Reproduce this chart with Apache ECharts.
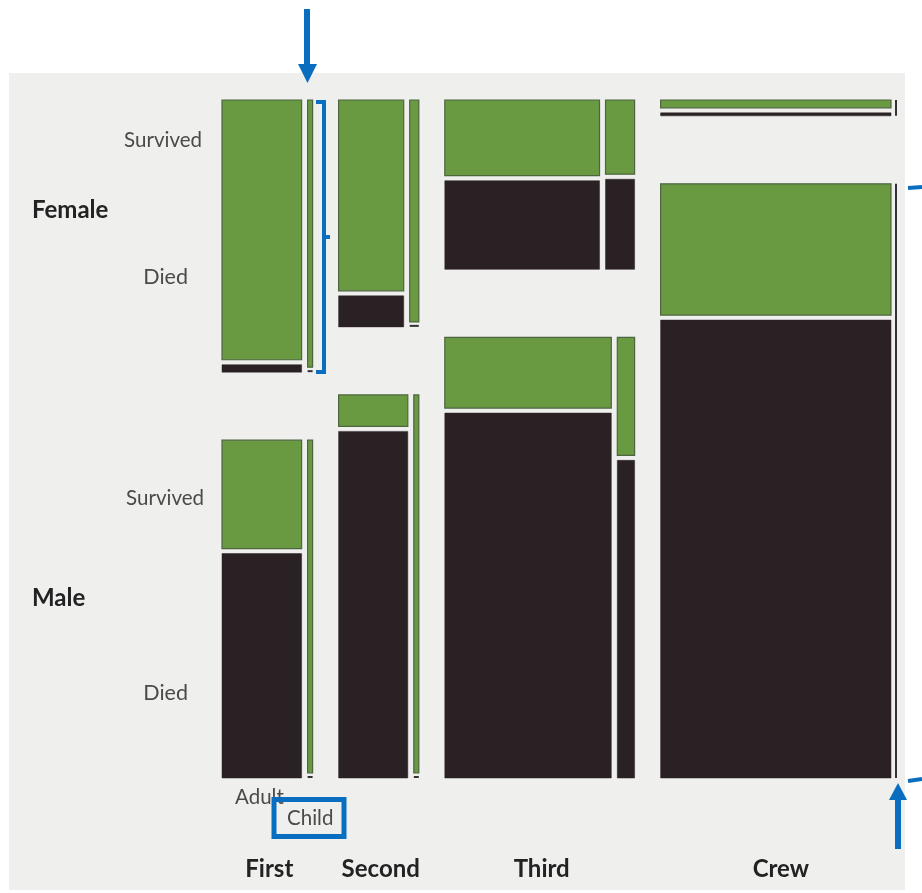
<!DOCTYPE html>
<html><head><meta charset="utf-8">
<script src="https://cdn.jsdelivr.net/npm/echarts@6/dist/echarts.min.js"></script>
<style>html,body{margin:0;padding:0;background:#fff}#c{width:922px;height:893px}</style>
</head><body><div id="c"></div>
<script>
// ---- data (Titanic passengers / crew) ----
const classes  = ['First', 'Second', 'Third', 'Crew'];
const sexes    = ['Female', 'Male'];
const ages     = ['Adult', 'Child'];
const outcomes = ['Survived', 'Died'];
// counts: [sex][age][outcome]
const firstCounts  = [[[140, 4], [1, 0]],  [[57, 118],  [5, 0]]];
const secondCounts = [[[80, 13], [13, 0]], [[14, 154],  [11, 0]]];
const thirdCounts  = [[[76, 89], [14, 17]], [[75, 387], [13, 35]]];
const crewCounts   = [[[20, 3],  [0, 0]],  [[192, 670], [0, 0]]];
const allCounts = [firstCounts, secondCounts, thirdCounts, crewCounts];

// ---- layout constants (axis units == pixels) ----
const W = 675, H = 678;
const G1 = 26, G2 = 68, G3 = 6, G4 = 5, MIN_AGE = 5, MIN_OUT = 3, ZERO = 2;

const sum = a => a.reduce((s, v) => s + v, 0);
function split(start, total, values, gap, minSize) {
  const avail = total - gap * (values.length - 1);
  const s = sum(values);
  let sizes = values.map(v => s > 0 ? avail * v / s : 0);
  if (minSize) {
    let deficit = 0;
    sizes = sizes.map((z, i) => { if (values[i] > 0 && z < minSize) { deficit += minSize - z; return minSize; } return z; });
    const mi = sizes.indexOf(Math.max(...sizes));
    sizes[mi] -= deficit;
  }
  let p = start;
  return sizes.map(z => { const r = [p, z]; p += z + gap; return r; });
}

// class widths
const classTotals = allCounts.map(c => sum(c.flat(2)));
const baseW = W - G1 * (classes.length - 1) - G3 * classes.length;
const N = sum(classTotals);
let xp = 0;
const classX = classTotals.map(t => { const w = baseW * t / N + G3; const r = [xp, w]; xp += w + G1; return r; });

const cells = []; // [x0, y0, x1, y1, kind]  kind: 0 survived, 1 died, 2 zero-line
classes.forEach((cn, ci) => {
  const counts = allCounts[ci];
  const sexTot = counts.map(s => sum(s.flat()));
  const sexY = split(0, H, sexTot, G2, 0);
  sexes.forEach((sn, si) => {
    const [y0, h] = sexY[si];
    const ageTot = counts[si].map(a => sum(a));
    const ageX = split(classX[ci][0], classX[ci][1], ageTot, G3, MIN_AGE);
    ages.forEach((an, ai) => {
      const [x0, w] = ageX[ai];
      if (ageTot[ai] === 0) { cells.push([x0 - ZERO, y0, x0, y0 + h, 2]); return; }
      const outY = split(y0, h, counts[si][ai], G4, MIN_OUT);
      outcomes.forEach((on, oi) => {
        const [yy, hh] = outY[oi];
        if (counts[si][ai][oi] === 0) {
          const top = oi === 0 ? yy : yy - ZERO;
          cells.push([x0, top, x0 + w, top + ZERO, 2]);
        } else {
          cells.push([x0, yy, x0 + w, yy + hh, oi]);
        }
      });
    });
  });
});
const classLabelData = classX.map((c, i) => [c[0] + c[1] / 2, H, i]);

const GREEN = '#699a42', GREEN_EDGE = '#4e6540', DARK = '#2a2125', BLUE = '#0a6ec0';
const chart = echarts.init(document.getElementById('c'), null, { renderer: 'canvas' });

function txt(text, x, y, opts) {
  return Object.assign({ type: 'text', z: 50, style: Object.assign({
    text, x, y, fontFamily: 'Lato', fontSize: 20.5, fill: '#4a4a4a',
    textAlign: 'left', textVerticalAlign: 'middle' }, opts || {}) });
}

chart.setOption({
  animation: false,
  grid: { left: 222, top: 100, width: W, height: H },
  xAxis: { type: 'value', min: 0, max: W, show: false },
  yAxis: { type: 'value', min: 0, max: H, inverse: true, show: false },
  series: [{
    type: 'custom',
    data: cells,
    renderItem: (params, api) => {
      const p0 = api.coord([api.value(0), api.value(1)]);
      const p1 = api.coord([api.value(2), api.value(3)]);
      const kind = api.value(4);
      const style = kind === 0 ? { fill: GREEN, stroke: GREEN_EDGE, lineWidth: 1.2 }
                  : kind === 1 ? { fill: DARK, stroke: DARK, lineWidth: 0.5 }
                  : { fill: '#333', stroke: null };
      return { type: 'rect', shape: { x: p0[0], y: p0[1], width: p1[0] - p0[0], height: p1[1] - p0[1] }, style };
    }
  }, {
    type: 'custom',
    data: classLabelData,
    renderItem: (params, api) => {
      const p = api.coord([api.value(0), api.value(1)]);
      return { type: 'text', style: { text: classes[api.value(2)], x: p[0] + 2, y: p[1] + 91,
        fontFamily: 'Lato', fontWeight: 'bold', fontSize: 24, fill: '#222', textAlign: 'center', textVerticalAlign: 'middle' } };
    }
  }],
  graphic: [
    { type: 'rect', z: -10, shape: { x: 9, y: 73, width: 896, height: 817 }, style: { fill: '#efefee' } },
    txt(outcomes[0], 202, 140, { textAlign: 'right' }),
    txt(sexes[0], 32, 210, { fontWeight: 'bold', fontSize: 24, fill: '#222' }),
    txt(outcomes[1], 188, 277, { textAlign: 'right', fontSize: 21.5 }),
    txt(outcomes[0], 204, 498, { textAlign: 'right' }),
    txt(sexes[1], 32, 598, { fontWeight: 'bold', fontSize: 24, fill: '#222' }),
    txt(outcomes[1], 188, 693, { textAlign: 'right', fontSize: 21.5 }),
    txt(ages[0], 235, 797, {}),
    txt(ages[1], 287, 818, {}),
    // annotations
    { type: 'rect', z: 60, shape: { x: 304, y: 9, width: 6, height: 58 }, style: { fill: BLUE } },
    { type: 'polygon', z: 60, shape: { points: [[298, 64], [317, 64], [307.5, 83]] }, style: { fill: BLUE } },
    { type: 'polyline', z: 60, shape: { points: [[316, 102], [324, 102], [324, 372], [316, 372]] }, style: { stroke: BLUE, lineWidth: 4, fill: null } },
    { type: 'line', z: 60, shape: { x1: 324, y1: 237, x2: 330, y2: 237 }, style: { stroke: BLUE, lineWidth: 4 } },
    { type: 'line', z: 60, shape: { x1: 908, y1: 188, x2: 922, y2: 187 }, style: { stroke: BLUE, lineWidth: 4 } },
    { type: 'line', z: 60, shape: { x1: 908, y1: 781, x2: 922, y2: 779 }, style: { stroke: BLUE, lineWidth: 4 } },
    { type: 'rect', z: 60, shape: { x: 895, y: 797, width: 6, height: 52 }, style: { fill: BLUE } },
    { type: 'polygon', z: 60, shape: { points: [[889, 800], [907, 800], [898, 783]] }, style: { fill: BLUE } },
    { type: 'rect', z: 60, shape: { x: 274, y: 799.5, width: 70, height: 37 }, style: { fill: null, stroke: BLUE, lineWidth: 5 } }
  ]
});
</script></body></html>
